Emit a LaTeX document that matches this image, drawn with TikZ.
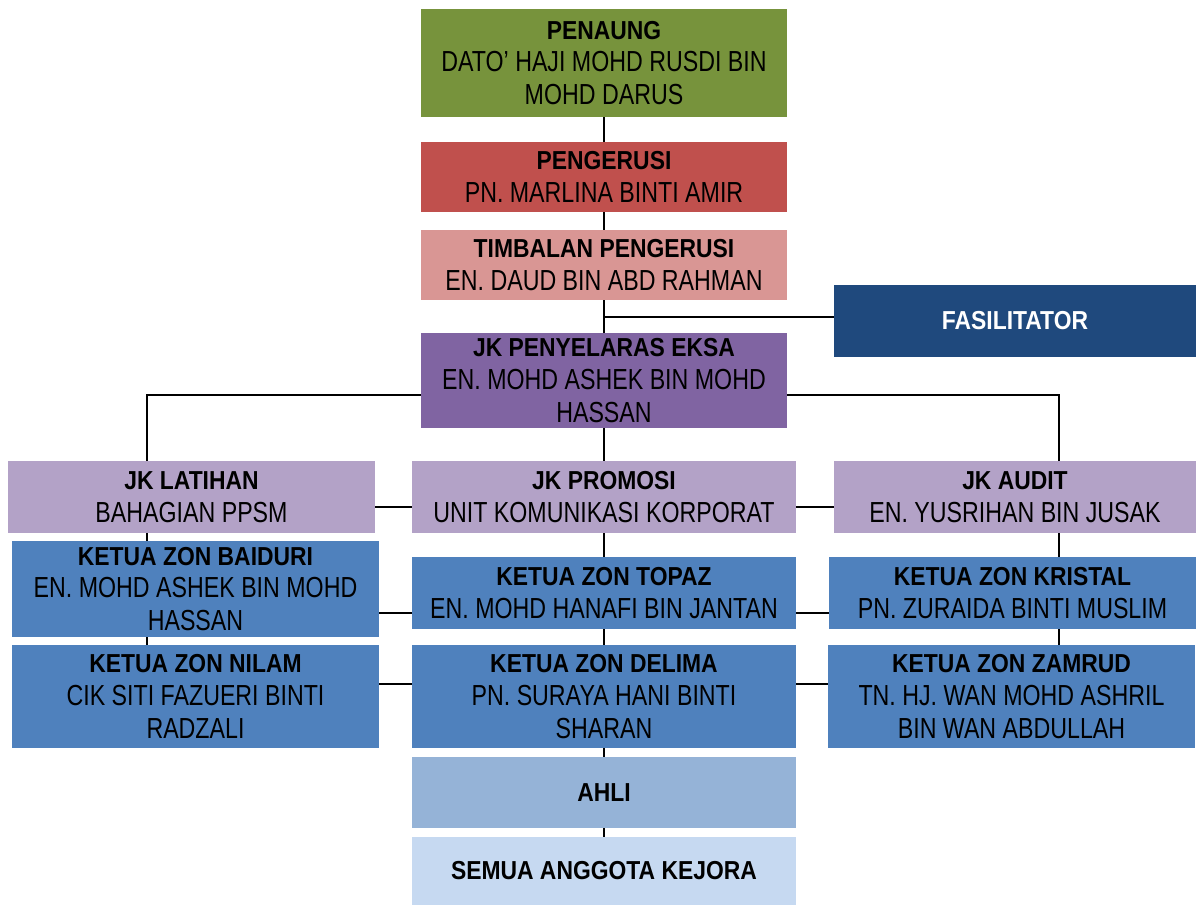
\documentclass[tikz,border=0pt]{standalone}
\usepackage{fontspec}
\setmainfont{Liberation Sans}[FakeStretch=0.8]
\newfontfamily\tebal{Liberation Sans}[FakeStretch=0.88]
\usepackage{tikz}
\definecolor{hijau}{HTML}{77933C}
\definecolor{merah}{HTML}{C0504D}
\definecolor{merahjambu}{HTML}{D99694}
\definecolor{birugelap}{HTML}{1F497D}
\definecolor{ungu}{HTML}{8064A2}
\definecolor{ungumuda}{HTML}{B3A2C7}
\definecolor{biru}{HTML}{4F81BD}
\definecolor{birumuda}{HTML}{95B3D7}
\definecolor{birupucat}{HTML}{C6D9F1}
\tikzset{unit/.style={inner sep=0pt, align=center, font=\fontsize{14.5}{16.3}\selectfont},
         garis/.style={line width=1pt}}
\newcommand{\tajuk}[1]{{\tebal\bfseries\fontsize{13}{16.3}\selectfont #1}}
\newcommand{\kotak}[7]{ \node[unit, fill=#6, minimum width={(#4-#2)*0.5pt}, minimum height={(#5-#3)*0.5pt}] (#1) at ({(#2+#4)/2},{(#3+#5)/2}) {#7};}

\begin{document}
\begin{tikzpicture}[x=0.5pt,y=-0.5pt]
        \useasboundingbox (0,0) rectangle (1196,905);
        % atas
        \kotak{penaung}{421}{9}{787}{117}{hijau}{\tajuk{PENAUNG}\\DATO’ HAJI MOHD RUSDI BIN\\MOHD DARUS}
        \kotak{pengerusi}{421}{142}{787}{212}{merah}{\tajuk{PENGERUSI}\\PN. MARLINA BINTI AMIR}
        \kotak{timbalan}{421}{230}{787}{300}{merahjambu}{\tajuk{TIMBALAN PENGERUSI}\\EN. DAUD BIN ABD RAHMAN}
        \kotak{fasilitator}{834}{285}{1196}{357}{birugelap}{\textcolor{white}{\tajuk{FASILITATOR}}}
        \kotak{eksa}{421}{333}{787}{428}{ungu}{\tajuk{JK PENYELARAS EKSA}\\EN. MOHD ASHEK BIN MOHD\\HASSAN}
        % jk
        \kotak{latihan}{8}{461}{375}{533}{ungumuda}{\tajuk{JK LATIHAN}\\BAHAGIAN PPSM}
        \kotak{promosi}{412}{461}{796}{533}{ungumuda}{\tajuk{JK PROMOSI}\\UNIT KOMUNIKASI KORPORAT}
        \kotak{audit}{834}{461}{1196}{533}{ungumuda}{\tajuk{JK AUDIT}\\EN. YUSRIHAN BIN JUSAK}
        % zon
        \kotak{baiduri}{12}{541}{379}{637}{biru}{\tajuk{KETUA ZON BAIDURI}\\EN. MOHD ASHEK BIN MOHD\\HASSAN}
        \kotak{topaz}{412}{557}{796}{629}{biru}{\tajuk{KETUA ZON TOPAZ}\\EN. MOHD HANAFI BIN JANTAN}
        \kotak{kristal}{829}{557}{1196}{629}{biru}{\tajuk{KETUA ZON KRISTAL}\\PN. ZURAIDA BINTI MUSLIM}
        \kotak{nilam}{12}{645}{379}{748}{biru}{\tajuk{KETUA ZON NILAM}\\CIK SITI FAZUERI BINTI\\RADZALI}
        \kotak{delima}{412}{645}{796}{748}{biru}{\tajuk{KETUA ZON DELIMA}\\PN. SURAYA HANI BINTI\\SHARAN}
        \kotak{zamrud}{828}{645}{1195}{748}{biru}{\tajuk{KETUA ZON ZAMRUD}\\TN. HJ. WAN MOHD ASHRIL\\BIN WAN ABDULLAH}
        % bawah
        \kotak{ahli}{412}{757}{796}{828}{birumuda}{\tajuk{AHLI}}
        \kotak{semua}{412}{837}{796}{905}{birupucat}{\tajuk{SEMUA ANGGOTA KEJORA}}
        % titik garis
        \coordinate (cabangKiri) at (147,395);
        \coordinate (cabangKanan) at (1059,395);
        \coordinate (arasFasi) at (0,317);
        \coordinate (aras1) at (0,507);
        \coordinate (aras2) at (0,613);
        \coordinate (aras3) at (0,684);
        % garis tengah
        \draw[garis] (penaung.south) -- (pengerusi.north);
        \draw[garis] (pengerusi.south) -- (timbalan.north);
        \draw[garis] (timbalan.south) -- (eksa.north);
        \draw[garis] (timbalan.south |- arasFasi) -- (fasilitator.west |- arasFasi);
        \draw[garis] (eksa.south) -- (promosi.north);
        \draw[garis] (promosi.south) -- (topaz.north);
        \draw[garis] (topaz.south) -- (delima.north);
        \draw[garis] (delima.south) -- (ahli.north);
        \draw[garis] (ahli.south) -- (semua.north);
        % garis kiri
        \draw[garis] (eksa.west |- cabangKiri) -- (cabangKiri) -- (cabangKiri |- latihan.north);
        \draw[garis] (cabangKiri |- latihan.south) -- (cabangKiri |- baiduri.north);
        \draw[garis] (cabangKiri |- baiduri.south) -- (cabangKiri |- nilam.north);
        % garis kanan
        \draw[garis] (eksa.east |- cabangKanan) -- (cabangKanan) -- (cabangKanan |- audit.north);
        \draw[garis] (cabangKanan |- audit.south) -- (cabangKanan |- kristal.north);
        \draw[garis] (cabangKanan |- kristal.south) -- (cabangKanan |- zamrud.north);
        % garis mendatar
        \draw[garis] (latihan.east |- aras1) -- (promosi.west |- aras1);
        \draw[garis] (promosi.east |- aras1) -- (audit.west |- aras1);
        \draw[garis] (baiduri.east |- aras2) -- (topaz.west |- aras2);
        \draw[garis] (topaz.east |- aras2) -- (kristal.west |- aras2);
        \draw[garis] (nilam.east |- aras3) -- (delima.west |- aras3);
        \draw[garis] (delima.east |- aras3) -- (zamrud.west |- aras3);
\end{tikzpicture}
\end{document}
